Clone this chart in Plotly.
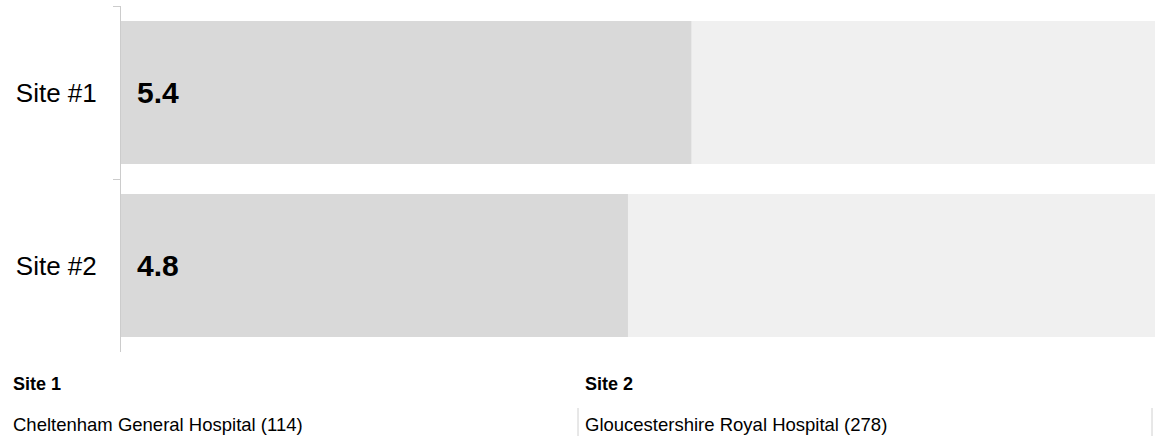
import plotly.graph_objects as go

categories = ["Site #1", "Site #2"]
values = [5.4, 4.8]
max_values = [10, 10]
site_headers = ["Site 1", "Site 2"]
site_names = ["Cheltenham General Hospital (114)", "Gloucestershire Royal Hospital (278)"]

FONT = "Arial, 'Liberation Sans', sans-serif"
W, H = 1155, 436
L, R, T, B = 121, 0, 6, 84
PW, PH = W - L - R, H - T - B

def px(X):
    return (X - L) / PW

def py(Y):
    return (H - B - Y) / PH

fig = go.Figure()
fig.add_trace(go.Bar(y=categories, x=max_values, orientation="h",
                     marker=dict(color="#f0f0f0", line=dict(width=0)),
                     hoverinfo="skip", showlegend=False))
fig.add_trace(go.Bar(y=categories, x=values, orientation="h",
                     marker=dict(color="#d9d9d9", line=dict(width=0)),
                     showlegend=False))

annotations = []
for c, v in zip(categories, values):
    annotations.append(dict(x=0, y=c, xref="x", yref="y", text=f"<b>{v}</b>",
                            showarrow=False, xanchor="left", yanchor="middle",
                            xshift=14, font=dict(family=FONT, size=30, color="#000")))

x_cols = [11, 583]
for xc, hdr, name in zip(x_cols, site_headers, site_names):
    annotations.append(dict(x=px(xc), y=py(384), xref="paper", yref="paper",
                            text=f"<b>{hdr}</b>", showarrow=False, xanchor="left",
                            yanchor="middle", font=dict(family=FONT, size=18, color="#000")))
    annotations.append(dict(x=px(xc), y=py(424), xref="paper", yref="paper",
                            text=name, showarrow=False, xanchor="left",
                            yanchor="middle", font=dict(family=FONT, size=18.5, color="#000")))

shapes = []
for X in [578, 1152]:
    shapes.append(dict(type="line", xref="paper", yref="paper",
                       x0=px(X), x1=px(X), y0=py(408), y1=py(436),
                       line=dict(color="#d0d0d0", width=1)))

fig.update_layout(
    width=W, height=H,
    margin=dict(l=L, r=R, t=T, b=B, pad=0),
    barmode="overlay", bargap=0.172,
    plot_bgcolor="white", paper_bgcolor="white",
    font=dict(family=FONT, color="#000"),
    xaxis=dict(range=[0, 9.79], visible=False, fixedrange=True),
    yaxis=dict(autorange="reversed", tickson="boundaries", ticks="outside",
               ticklen=7, tickcolor="#cccccc", showline=True, linecolor="#cccccc",
               linewidth=1, showgrid=False, ticklabelstandoff=18,
               tickfont=dict(family=FONT, size=26, color="#000"), fixedrange=True),
    annotations=annotations, shapes=shapes,
)

fig.write_html("out.html", config={"displayModeBar": False},
               post_script="document.body.style.margin='0';document.body.style.overflow='hidden';")
